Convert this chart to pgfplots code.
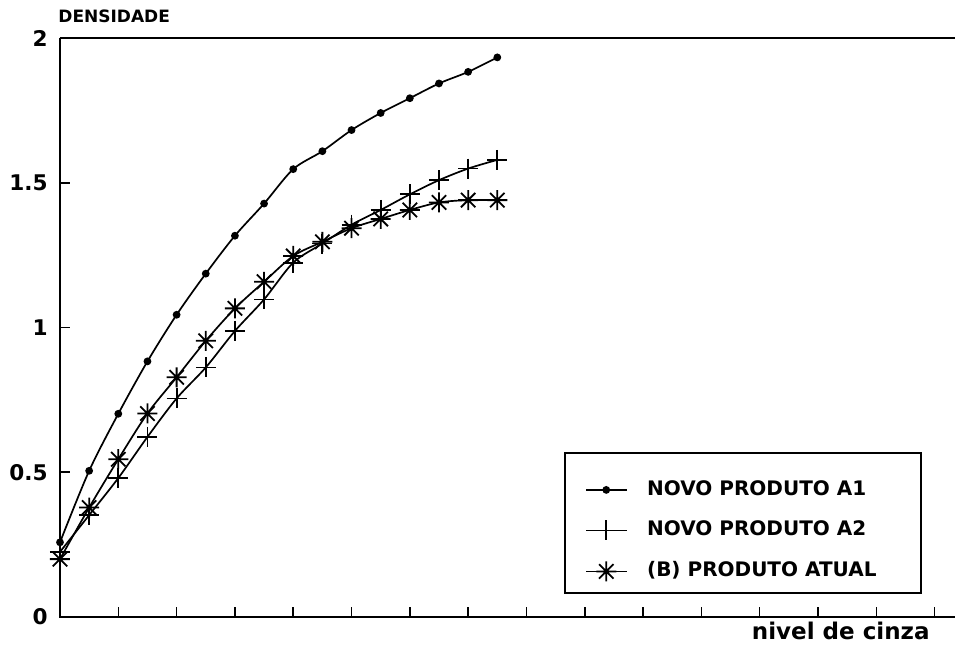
\documentclass[border=0pt]{standalone}
\usepackage{fontspec}
\setmainfont{DejaVu Sans}
\usepackage{pgfplots}
\pgfplotsset{compat=1.18}
\pgfdeclareplotmark{star8}{%
  \pgfpathmoveto{\pgfqpoint{-\pgfplotmarksize}{0pt}}\pgfpathlineto{\pgfqpoint{\pgfplotmarksize}{0pt}}%
  \pgfpathmoveto{\pgfqpoint{0pt}{-\pgfplotmarksize}}\pgfpathlineto{\pgfqpoint{0pt}{\pgfplotmarksize}}%
  \pgfpathmoveto{\pgfqpoint{-0.72\pgfplotmarksize}{-0.72\pgfplotmarksize}}\pgfpathlineto{\pgfqpoint{0.72\pgfplotmarksize}{0.72\pgfplotmarksize}}%
  \pgfpathmoveto{\pgfqpoint{-0.72\pgfplotmarksize}{0.72\pgfplotmarksize}}\pgfpathlineto{\pgfqpoint{0.72\pgfplotmarksize}{-0.72\pgfplotmarksize}}%
  \pgfusepathqstroke}
\begin{document}
\begin{tikzpicture}
\begin{axis}[
  scale only axis,
  width=447.5pt, height=289.5pt,
  xmin=0, xmax=15.35, ymin=0, ymax=2,
  axis line style={draw=none},
  xtick={1,2,...,15}, xticklabels={},
  ytick={0,0.5,1,1.5,2},
  tick align=inside, xtick pos=bottom, ytick pos=left,
  major tick length=5pt,
  tick style={black, line width=0.8pt},
  /pgf/number format/assume math mode=true,
  yticklabel style={font=\bfseries\fontsize{10.8}{12}\selectfont, inner sep=0pt, xshift=-6pt},
  ylabel={DENSIDADE},
  ylabel style={at={(rel axis cs:0,1)}, anchor=south west, rotate=-90, inner sep=0pt, yshift=7.5pt, xshift=-1pt, font=\bfseries\fontsize{8.5}{10}\selectfont},
  xlabel={nivel de cinza},
  xlabel style={at={(rel axis cs:0.972,0)}, anchor=north east, inner sep=0pt, yshift=-2.5pt, font=\bfseries\fontsize{11.5}{13}\selectfont},
  legend image code/.code={\draw[mark repeat=2,mark phase=2,#1] plot coordinates {(0pt,0pt) (10pt,0pt) (20pt,0pt)};},
  legend style={at={(rel axis cs:0.5866,0.2366)}, anchor=north west, draw=none, fill=none, inner sep=0pt,
    font=\bfseries\fontsize{10}{12}\selectfont, row sep=10.5pt, column sep=10pt,
    nodes={inner sep=0pt, text height=7.5pt, text depth=2pt}},
  legend cell align=left,
  clip=false,
]
\addplot[black, line width=0.85pt, smooth, mark=*, mark size=1.5pt] coordinates {
(0,0.258)(0.5,0.505)(1,0.702)(1.5,0.883)(2,1.044)(2.5,1.186)(3,1.317)(3.5,1.428)(4,1.547)(4.5,1.609)(5,1.682)(5.5,1.741)(6,1.792)(6.5,1.843)(7,1.883)(7.5,1.933)};
\addlegendentry{NOVO PRODUTO A1}
\addplot[black, line width=0.85pt, smooth, mark=+, mark size=5pt, mark options={line width=0.9pt}] coordinates {
(0,0.225)(0.5,0.352)(1,0.48)(1.5,0.622)(2,0.755)(2.5,0.862)(3,0.988)(3.5,1.097)(4,1.224)(4.5,1.29)(5,1.355)(5.5,1.406)(6,1.46)(6.5,1.509)(7,1.549)(7.5,1.579)};
\addlegendentry{NOVO PRODUTO A2}
\addplot[black, line width=0.85pt, smooth, mark=star8, mark size=5pt, mark options={line width=0.9pt}] coordinates {
(0,0.20)(0.5,0.378)(1,0.545)(1.5,0.703)(2,0.828)(2.5,0.954)(3,1.066)(3.5,1.158)(4,1.247)(4.5,1.296)(5,1.343)(5.5,1.375)(6,1.406)(6.5,1.432)(7,1.44)(7.5,1.44)};
\addlegendentry{(B) PRODUTO ATUAL}
\draw[black, line width=1pt] (rel axis cs:0,1) -- (rel axis cs:0,0) -- (rel axis cs:1,0);
\draw[black, line width=1pt] (rel axis cs:0,1) -- (rel axis cs:1,1);
\draw[black, line width=0.9pt] (rel axis cs:0.5642,0.0415) rectangle (rel axis cs:0.962,0.2832);
\coordinate (bl) at (rel axis cs:0,0);
\coordinate (tr) at (rel axis cs:1,1);
\end{axis}
\pgfresetboundingbox
\path[use as bounding box] ([xshift=-30pt,yshift=-15pt]bl) rectangle ([yshift=19pt]tr);
\end{tikzpicture}
\end{document}
